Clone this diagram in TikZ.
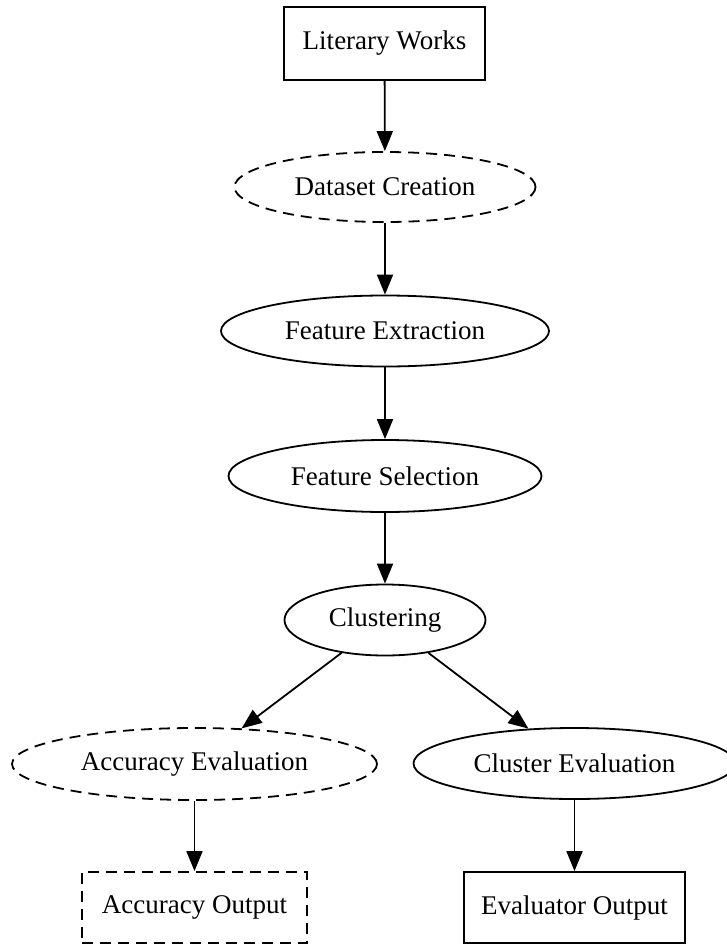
\documentclass[tikz,border=0pt]{standalone}
\usepackage{fontspec}
\setmainfont{Liberation Serif}
\usetikzlibrary{shapes.geometric,arrows.meta}
\begin{document}
\begin{tikzpicture}[x=1pt,y=-1pt,
  base/.style={draw, line width=1.8pt, inner sep=0pt, font=\fontsize{27}{30}\selectfont},
  oval/.style={base, ellipse},
  box/.style={base, rectangle},
  dashedline/.style={dash pattern=on 11pt off 7pt},
  arr/.style={line width=1.8pt, -{Triangle[length=20pt,width=16pt]}}]
\useasboundingbox (0,0) rectangle (726,945);
\node[box, minimum width=201pt, minimum height=73pt] (lit) at (384.5,43.5) {Literary Works};
\node[oval, dashedline, minimum width=301pt, minimum height=70pt] (ds) at (385,187) {Dataset Creation};
\node[oval, minimum width=328pt, minimum height=71pt] (fe) at (385,331) {Feature Extraction};
\node[oval, minimum width=313pt, minimum height=72pt] (fs) at (385,476) {Feature Selection};
\node[oval, minimum width=201pt, minimum height=71pt] (cl) at (385,620) {Clustering};
\node[oval, dashedline, minimum width=365pt, minimum height=72pt] (ae) at (194.5,764) {Accuracy Evaluation};
\node[oval, minimum width=322pt, minimum height=71pt] (ce) at (574.5,763.5) {Cluster Evaluation};
\node[box, dashedline, minimum width=225pt, minimum height=71pt] (ao) at (194.5,907.5) {Accuracy Output};
\node[box, minimum width=221pt, minimum height=71pt] (eo) at (574.5,907.5) {Evaluator Output};
\draw[arr] (lit) -- (ds);
\draw[arr] (ds) -- (fe);
\draw[arr] (fe) -- (fs);
\draw[arr] (fs) -- (cl);
\draw[arr] (cl) -- (ae);
\draw[arr] (cl) -- (ce);
\draw[arr] (ae) -- (ao);
\draw[arr] (ce) -- (eo);
\end{tikzpicture}
\end{document}
